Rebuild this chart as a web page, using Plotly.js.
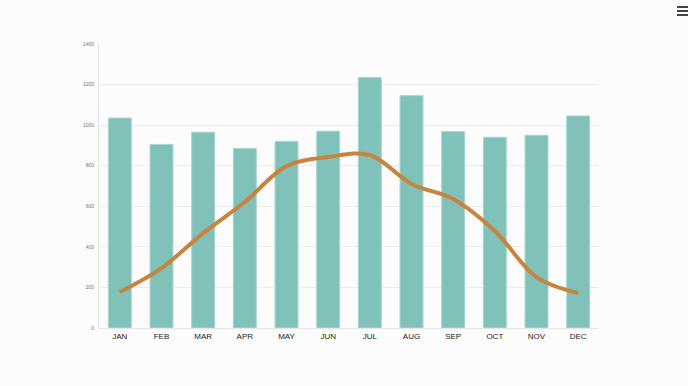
<!DOCTYPE html>
<html>
<head>
<meta charset="utf-8">
<script src="https://cdn.plot.ly/plotly-3.0.1.min.js"></script>
<style>
html,body{margin:0;padding:0;background:#fcfcfc;}
#chart{width:688px;height:386px;}
#menu{position:absolute;left:677px;top:6px;width:11px;}
#menu div{height:2px;background:#444;margin-bottom:2px;}
</style>
</head>
<body>
<div id="chart"></div>
<div id="menu"><div></div><div></div><div></div></div>
<script>
const months = ["JAN","FEB","MAR","APR","MAY","JUN","JUL","AUG","SEP","OCT","NOV","DEC"];
const barValues = [1035, 905, 965, 885, 920, 970, 1235, 1145, 968, 940, 950, 1045];
const lineValues = [177, 295, 468, 621, 798, 843, 853, 710, 636, 478, 251, 172];
const yTicks = [0, 200, 400, 600, 800, 1000, 1200, 1400];

const traces = [
  {
    type: "bar",
    x: months,
    y: barValues,
    marker: {color: "#80c1b9", line: {color: "#a6d6d0", width: 1}},
    hoverinfo: "x+y"
  },
  {
    type: "scatter",
    mode: "lines",
    x: months,
    y: lineValues,
    line: {color: "#c8843f", width: 4, shape: "spline", smoothing: 1},
    hoverinfo: "x+y"
  }
];

const layout = {
  width: 688,
  height: 386,
  margin: {l: 99, r: 89, t: 44, b: 58},
  paper_bgcolor: "#fcfcfc",
  plot_bgcolor: "#fcfcfc",
  showlegend: false,
  bargap: 0.45,
  xaxis: {
    type: "category",
    tickfont: {family: "Liberation Sans, Arial", size: 8, color: "#222"},
    showgrid: false,
    showline: true,
    linecolor: "#e6e6e6",
    linewidth: 1,
    ticks: "",
    ticklen: 0
  },
  yaxis: {
    range: [0, 1400],
    tickvals: yTicks,
    ticktext: yTicks.map(String),
    tickfont: {family: "Liberation Sans, Arial", size: 5, color: "#777"},
    gridcolor: "#ececec",
    gridwidth: 1,
    zeroline: false,
    showline: true,
    linecolor: "#e6e6e6",
    ticks: "",
    ticklabelstandoff: 3
  }
};

Plotly.newPlot("chart", traces, layout, {displayModeBar: false, responsive: false});
</script>
</body>
</html>
